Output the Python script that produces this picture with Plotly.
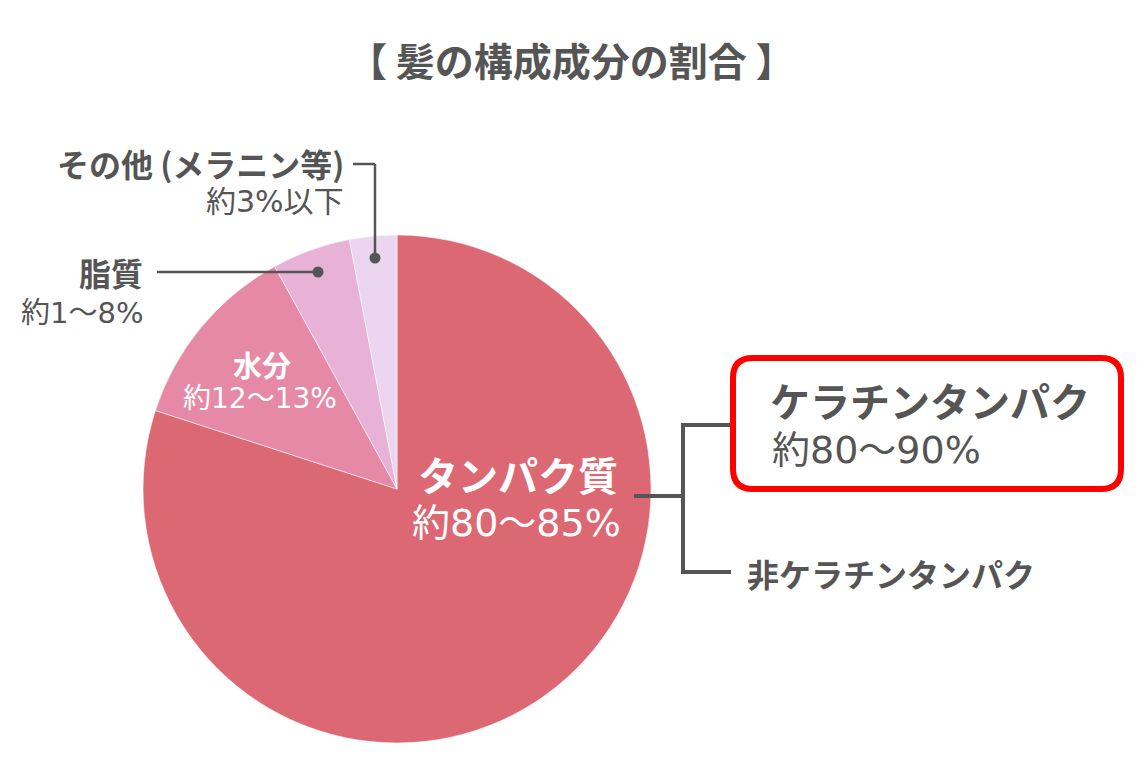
import plotly.graph_objects as go

W, H = 1148, 776

# Data
categories = ["タンパク質", "水分", "脂質", "その他 (メラニン等)"]
values = [80, 12, 5, 3]
ranges = ["約80〜85%", "約12〜13%", "約1〜8%", "約3%以下"]
colors = ["#dc6873", "#e589a7", "#e8b2d6", "#ebd5ef"]
sub_names = ["ケラチンタンパク", "非ケラチンタンパク"]
sub_ranges = ["約80〜90%"]
title_text = "【 髪の構成成分の割合 】"

FONT = "Noto Sans CJK JP"
NUMFONT = "DejaVu Sans, Noto Sans CJK JP"
GRAY = "#555555"


def fx(p):
    return p / W


def fy(p):
    return 1 - p / H


fig = go.Figure()
fig.add_trace(go.Pie(
    labels=categories,
    values=values,
    sort=False,
    direction="clockwise",
    rotation=0,
    marker=dict(colors=colors, line=dict(color="rgba(255,255,255,0.55)", width=1)),
    textinfo="none",
    hoverinfo="skip",
    showlegend=False,
    domain=dict(x=[fx(143), fx(651)], y=[fy(743), fy(235)]),
))

ann = []


def add_text(text, x, y, size, color=GRAY, bold=False, xanchor="center", family=FONT):
    ann.append(dict(
        text=text, x=fx(x), y=fy(y), xref="paper", yref="paper",
        xanchor=xanchor, yanchor="middle", showarrow=False,
        font=dict(family=family, size=size, color=color, weight=700 if bold else 400),
    ))


# Title
add_text(title_text, 571, 59, 39, bold=True)

# Slice labels inside
add_text(categories[0], 518, 474, 40, color="white", bold=True)
add_text(ranges[0], 516, 523, 38, color="white", family=NUMFONT)
add_text(categories[1], 262, 364, 29, color="white", bold=True)
add_text(ranges[1], 260, 399, 28, color="white", family=NUMFONT)

# Outside labels
add_text(categories[2], 145, 272, 32, bold=True, xanchor="right")
add_text(ranges[2], 145, 313, 29, xanchor="right", family=NUMFONT)
add_text(categories[3], 346, 163, 32, bold=True, xanchor="right")
add_text(ranges[3], 346, 202, 30, xanchor="right", family=NUMFONT)

# Right side sub-components
add_text(sub_names[0], 768, 400, 40, bold=True, xanchor="left")
add_text(sub_ranges[0], 770, 450, 38, xanchor="left", family=NUMFONT)
add_text(sub_names[1], 745, 573, 32, bold=True, xanchor="left")

shapes = []


def line(x0, y0, x1, y1, w=3):
    shapes.append(dict(type="line", xref="paper", yref="paper",
                       x0=fx(x0), y0=fy(y0), x1=fx(x1), y1=fy(y1),
                       line=dict(color=GRAY, width=w)))


def dot(x, y, r=5.5):
    shapes.append(dict(type="circle", xref="paper", yref="paper",
                       x0=fx(x - r), y0=fy(y - r), x1=fx(x + r), y1=fy(y + r),
                       fillcolor=GRAY, line=dict(width=0)))


# Leader lines
line(353, 164, 375, 164, 2.5)
line(375, 164, 375, 258, 2.5)
dot(375, 258)
line(157, 272, 318, 272, 2.5)
dot(318, 272)

# Bracket
line(634, 496, 683, 496, 4)
line(683, 424, 683, 573, 4)
line(681, 425, 731, 425, 4)
line(681, 572, 731, 572, 4)

# Rounded red box
x0, x1, y0, y1, r = 733, 1121, 358, 489, 20
path = (
    f"M {fx(x0 + r)} {fy(y0)} L {fx(x1 - r)} {fy(y0)} "
    f"Q {fx(x1)} {fy(y0)} {fx(x1)} {fy(y0 + r)} "
    f"L {fx(x1)} {fy(y1 - r)} Q {fx(x1)} {fy(y1)} {fx(x1 - r)} {fy(y1)} "
    f"L {fx(x0 + r)} {fy(y1)} Q {fx(x0)} {fy(y1)} {fx(x0)} {fy(y1 - r)} "
    f"L {fx(x0)} {fy(y0 + r)} Q {fx(x0)} {fy(y0)} {fx(x0 + r)} {fy(y0)} Z"
)
shapes.append(dict(type="path", xref="paper", yref="paper", path=path,
                   line=dict(color="#ff0000", width=6), fillcolor="rgba(0,0,0,0)"))

fig.update_layout(
    width=W, height=H,
    margin=dict(l=0, r=0, t=0, b=0),
    paper_bgcolor="white", plot_bgcolor="white",
    annotations=ann, shapes=shapes,
    font=dict(family=FONT),
)

fig.write_html("out.html", config={"displayModeBar": False})
